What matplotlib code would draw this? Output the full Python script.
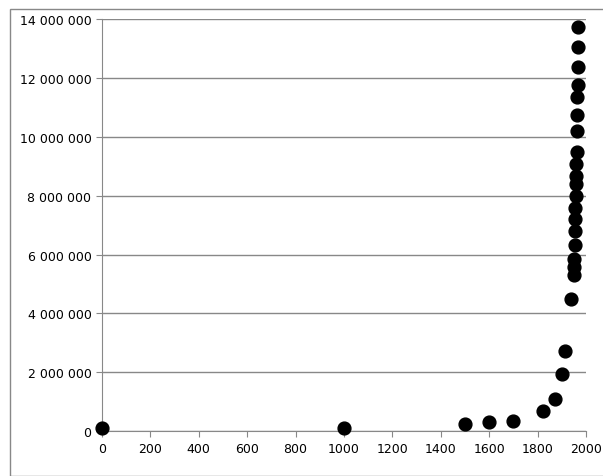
import matplotlib.pyplot as plt
from matplotlib.patches import Rectangle
from matplotlib.ticker import FuncFormatter

years = [1, 1000, 1500, 1600, 1700, 1820, 1870, 1900, 1914, 1939,
         1950, 1951, 1952, 1953, 1954, 1955, 1956, 1957, 1958, 1959,
         1960, 1961, 1962, 1963, 1964, 1965, 1966, 1967, 1968]
pop = [0.1, 0.1, 0.25, 0.3, 0.35, 0.68, 1.1, 1.95, 2.72, 4.5,
       5.3, 5.57, 5.85, 6.32, 6.8, 7.2, 7.58, 7.98, 8.4, 8.67,
       9.07, 9.5, 10.2, 10.74, 11.35, 11.76, 12.37, 13.05, 13.73]
pop = [p * 1e6 for p in pop]

fig = plt.figure(figsize=(6.03, 4.77), dpi=100)
fig.patches.append(Rectangle((10/603, 0.0), 1.0, 1 - 10/477, transform=fig.transFigure,
                             fill=False, edgecolor='#888888', lw=1))
ax = fig.add_axes([0.169, 0.094, 0.803, 0.864])
ax.scatter(years, pop, s=85, color='black', zorder=3, clip_on=False)
ax.set_xlim(0, 2000)
ax.set_ylim(0, 14e6)
ax.set_xticks(range(0, 2001, 200))
ax.set_yticks(range(0, 14000001, 2000000))
ax.yaxis.set_major_formatter(FuncFormatter(lambda v, p: f"{int(v):,}".replace(",", " ")))
ax.grid(axis='y', color='#888888', lw=1)
for s in ['top', 'right']:
    ax.spines[s].set_visible(False)
ax.spines['left'].set_color('#888888')
ax.spines['bottom'].set_color('#888888')
ax.tick_params(length=4, color='#888888', labelsize=9)
fig.savefig('out.png')
